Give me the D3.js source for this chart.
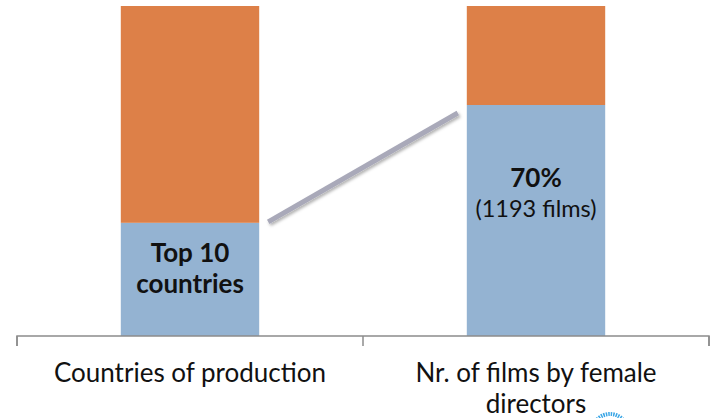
<!DOCTYPE html>
<html><head><meta charset="utf-8">
<script src="https://cdn.jsdelivr.net/npm/d3@7"></script>
<style>html,body{margin:0;padding:0;background:#fff;}svg{display:block;}</style>
</head><body>
<svg id="chart" width="712" height="418"></svg>
<script>
const categories = ["Countries of production", "Nr. of films by female directors"];
const categoryLines = [["Countries of production"], ["Nr. of films by female", "directors"]];
const bottomValues = [34.3, 70];
const topValues = [65.7, 30];
const barLabelsMain = ["Top 10", "70%"];
const barLabelsSub = ["countries", "(1193 films)"];
const subBold = [true, false];

const svg = d3.select("#chart");
const x = d3.scaleBand().domain(categories).range([17, 709]).padding(0);
const y = d3.scaleLinear().domain([0, 100]).range([336, 6]);
const barW = x.bandwidth() * 0.4;

const data = categories.map((c, i) => ({c, b: bottomValues[i], t: topValues[i]}));

const defs = svg.append("defs");
const f = defs.append("filter").attr("id", "sh").attr("x", "-20%").attr("y", "-20%").attr("width", "140%").attr("height", "140%");
f.append("feDropShadow").attr("dx", 1.5).attr("dy", 2).attr("stdDeviation", 1.5).attr("flood-color", "#000").attr("flood-opacity", 0.3);

const g = svg.append("g");
g.selectAll("rect.bot").data(data).join("rect")
  .attr("x", d => x(d.c) + (x.bandwidth() - barW) / 2)
  .attr("width", barW)
  .attr("y", d => y(d.b))
  .attr("height", d => y(0) - y(d.b))
  .attr("fill", "#94b3d2");
g.selectAll("rect.top").data(data).join("rect")
  .attr("x", d => x(d.c) + (x.bandwidth() - barW) / 2)
  .attr("width", barW)
  .attr("y", d => y(d.b + d.t))
  .attr("height", d => y(d.b) - y(d.b + d.t))
  .attr("fill", "#dd8048");

const x0 = x(categories[0]) + (x.bandwidth() + barW) / 2;
const x1 = x(categories[1]) + (x.bandwidth() - barW) / 2;
svg.append("line")
  .attr("x1", x0 + 9).attr("y1", y(bottomValues[0]) - 1)
  .attr("x2", x1 - 9).attr("y2", y(bottomValues[1]) + 8)
  .attr("stroke", "#a9a9b9").attr("stroke-width", 5)
  .attr("filter", "url(#sh)");

const axis = d3.axisBottom(x).tickSize(10).tickFormat("");
const ax = svg.append("g").attr("transform", "translate(0,336)").call(axis);
ax.select(".domain").attr("stroke", "#8c8c8c").attr("stroke-width", 1.5)
  .attr("d", "M17,10V0H709V10");
ax.selectAll(".tick").remove();
svg.append("g").selectAll("line").data([0,1,2]).join("line")
  .attr("x1", i => 17 + i * x.step()).attr("x2", i => 17 + i * x.step())
  .attr("y1", 336).attr("y2", 346).attr("stroke", "#8c8c8c").attr("stroke-width", 1.5);

const font = "Lato, 'Open Sans', sans-serif";
categoryLines.forEach((lines, i) => {
  const t = svg.append("text").attr("text-anchor", "middle")
    .attr("font-family", font).attr("font-size", 26).attr("fill", "#111");
  lines.forEach((l, j) => {
    t.append("tspan").attr("x", x(categories[i]) + x.bandwidth() / 2)
      .attr("y", 382 + j * 31).text(l);
  });
});

const mainY = [262, 187];
const subY = [293, 217];
data.forEach((d, i) => {
  const cx = x(d.c) + x.bandwidth() / 2;
  svg.append("text").attr("x", cx).attr("y", mainY[i]).attr("text-anchor", "middle")
    .attr("font-family", font).attr("font-size", 26).attr("font-weight", "bold").attr("fill", "#111")
    .text(barLabelsMain[i]);
  svg.append("text").attr("x", cx).attr("y", subY[i]).attr("text-anchor", "middle")
    .attr("font-family", font).attr("font-size", subBold[i] ? 26 : 23.5).attr("font-weight", subBold[i] ? "bold" : "normal").attr("fill", "#111")
    .text(barLabelsSub[i]);
});

svg.append("circle").attr("cx", 610).attr("cy", 432).attr("r", 18)
  .attr("fill", "none").attr("stroke", "#3aa6e6").attr("stroke-width", 4).attr("stroke-dasharray", "1.5,1");
</script>
</body></html>
